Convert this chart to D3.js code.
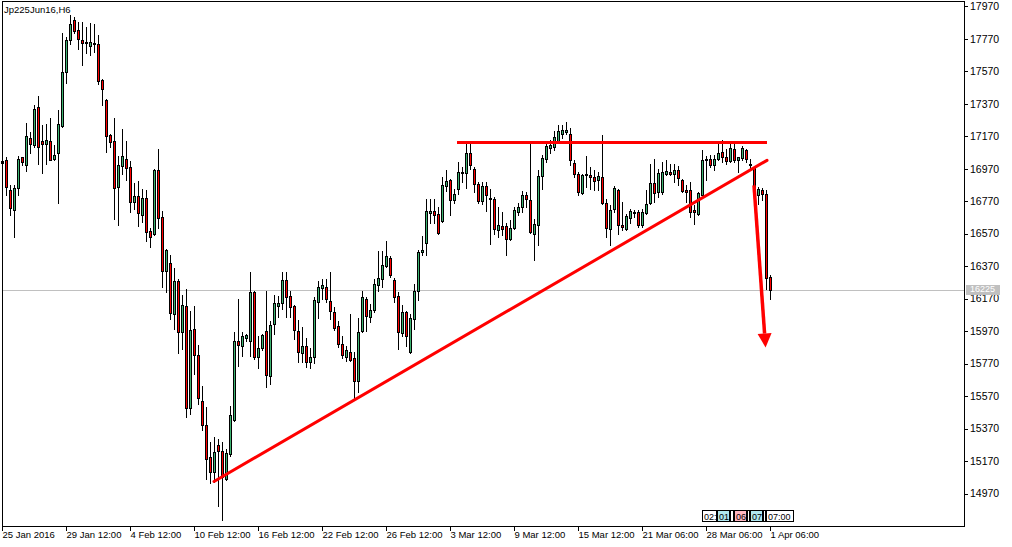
<!DOCTYPE html>
<html><head><meta charset="utf-8">
<script src="https://cdn.jsdelivr.net/npm/d3@7"></script>
<style>body{margin:0;background:#fff}svg{display:block}</style>
</head><body>
<svg id="chart" width="1012" height="547"></svg>
<script>
const title = "Jp225Jun16,H6";
const opens = [17005,17025,16837,16718,16851,17040,16995,17161,17116,17348,17139,17124,17143,17030,17067,17235,17565,17761,17884,17822,
17761,17752,17726,17746,17736,17518,17395,17175,17138,16857,16986,17032,16978,16765,16800,16687,16787,16584,16570,16960,
16670,16340,16391,16077,16276,15964,16122,15498,15981,15820,15537,15394,15194,15102,15266,15229,15059,15212,15424,15906,
15876,15925,15911,16208,15812,15863,15968,15691,16013,16126,16140,16286,16188,16122,15968,15835,15880,15781,15812,16151,
16235,16239,16153,16085,15999,15890,15808,15839,15802,15664,15972,16167,16054,16102,16254,16291,16369,16418,16286,16184,
15958,16085,15843,16044,16217,16457,16514,16699,16707,16689,16648,16863,16898,16775,16847,16943,16945,17069,16970,16878,
16771,16861,16791,16785,16594,16615,16615,16539,16605,16703,16734,16810,16779,16570,16621,16925,17032,17099,17101,17138,
17186,17196,17186,17007,16939,16822,16933,16929,16919,16898,16919,16761,16601,16724,16841,16621,16601,16668,16697,16703,
16621,16697,16759,16882,16824,16826,16939,16949,16939,16964,16902,16837,16837,16718,16693,16810,17021,17028,16995,17032,
17073,17042,17015,17089,17021,17036,17083,17001,16974,16810,16837,16812,16303];
const highs = [17030,17040,16868,16868,17046,17042,17251,17196,17360,17416,17241,17247,17284,17114,17329,17806,17781,17915,17904,17873,
17873,17843,17867,17859,17791,17524,17401,17186,17282,17048,17212,17138,17015,16884,16892,16843,16837,16605,16966,17089,
16707,16478,16436,16360,16289,16190,16227,16091,16124,15886,15632,15502,15287,15317,15307,15287,15243,15510,15966,16167,
15962,15952,16336,16218,15941,15952,16218,16034,16192,16188,16336,16331,16218,16130,16040,15993,15925,15863,16177,16280,
16291,16291,16336,16116,16034,15942,15880,16075,15839,16048,16219,16178,16137,16291,16465,16465,16527,16434,16295,16213,
16130,16096,16075,16260,16467,16553,16785,16785,16785,16734,16919,16960,16908,16847,17011,16980,17124,17124,16980,16888,
16888,16888,16847,16796,16734,16703,16635,16652,16734,16761,16830,16826,17124,16662,16960,17056,17124,17145,17200,17237,
17241,17257,17221,17021,16949,16939,17048,16980,16960,16949,17175,16785,16748,16861,16847,16765,16693,16724,16713,16713,
16724,16837,17001,17032,16970,17011,17025,17001,17001,16984,16908,16867,16888,16744,16826,17083,17046,17052,17052,17134,
17145,17093,17124,17124,17040,17110,17093,17032,16974,16857,16851,16837,16313];
const lows = [16990,16806,16683,16549,16806,16991,16954,17067,17104,16997,16944,17001,17021,17025,16759,17227,17498,17740,17802,17709,
17607,17679,17668,17689,17494,17364,17073,17104,16662,16621,16935,16898,16703,16720,16617,16642,16523,16488,16564,16607,
16241,16210,16042,15985,15837,15862,15441,15461,15708,15523,15359,15061,15036,15040,14896,14804,15054,15202,15418,15752,
15814,15911,15814,15798,15740,15855,15623,15644,15952,16054,16106,16054,16054,15921,15781,15781,15746,15740,15773,16050,
16167,16147,16044,15979,15870,15802,15788,15788,15552,15597,15962,15972,16028,16089,16219,16239,16362,16301,16147,15859,
15942,15880,15833,15983,16159,16436,16436,16635,16635,16570,16642,16832,16683,16759,16812,16888,16853,16970,16826,16759,
16754,16709,16504,16570,16549,16559,16436,16529,16597,16683,16703,16734,16575,16406,16498,16843,17011,17069,17083,17130,
17159,17186,16991,16919,16806,16816,16857,16847,16837,16837,16755,16549,16498,16703,16570,16590,16594,16635,16672,16611,
16611,16693,16755,16765,16796,16816,16929,16929,16888,16867,16826,16765,16672,16627,16683,16806,16900,16980,16960,17021,
17011,17001,17011,17011,16950,17021,17011,16970,16755,16755,16775,16231,16169];
const closes = [17020,16857,16728,16853,17032,17011,17173,17124,17340,17104,17122,17149,17025,17056,17247,17563,17761,17863,17818,17771,
17746,17746,17752,17740,17510,17461,17169,17134,16851,16991,17046,16974,16765,16800,16697,16787,16580,16551,16960,16666,
16340,16467,16083,16276,15964,16128,15498,15974,15820,15558,15389,15184,15102,15225,15229,15070,15217,15455,15906,15884,
15941,15945,16212,15812,15863,15945,15701,16009,16140,16140,16286,16182,16120,15976,15843,15880,15781,15812,16163,16239,
16254,16167,16091,15989,15890,15823,15853,15794,15664,15966,16178,16065,16102,16260,16295,16379,16430,16315,16182,15962,
16085,15942,16048,16219,16457,16467,16707,16709,16687,16576,16867,16894,16779,16812,16950,16950,17069,16991,16878,16771,
16861,16806,16785,16600,16621,16600,16539,16607,16718,16734,16810,16781,16580,16631,16923,17036,17110,17118,17165,17200,
17206,17206,17021,16939,16826,16933,16939,16919,16892,16923,16761,16605,16713,16853,16621,16611,16676,16709,16703,16621,
16703,16755,16882,16820,16943,16949,16956,16939,16964,16915,16830,16826,16703,16703,16820,17025,17032,16995,17032,17069,
17042,17015,17097,17021,17040,17097,17028,16995,16810,16843,16816,16297,16225];
const priceTicks = [17970,17770,17570,17370,17170,16970,16770,16570,16370,16170,15970,15770,15570,15370,15170,14970];
const dateLabels = ["25 Jan 2016","29 Jan 12:00","4 Feb 12:00","10 Feb 12:00","16 Feb 12:00","22 Feb 12:00","26 Feb 12:00","3 Mar 12:00","9 Mar 12:00","15 Mar 12:00","21 Mar 06:00","28 Mar 06:00","1 Apr 06:00"];
const dateLabelBars = [0,16,32,48,64,80,96,112,128,144,160,176,192];
const currentPrice = 16225;
const resistanceBars = [113.75, 191.25];
const resistancePrice = 17131;
const trendBars = [53, 191.25];
const trendPrices = [15044, 17021];
const arrowBars = [188, 190.9];
const arrowPrices = [16867, 15869];
const timerLabels = ["02:", "01", "", "06", "", "07", "", "07:00"];
const timerKinds = ["w", "c", "w", "p", "w", "c", "w", "w"];

const svg = d3.select("#chart");
const FONT = "'Liberation Sans', Arial, sans-serif";
const fL = 2, fR = 964, fT = 1, fB = 526;
const x = d3.scaleLinear().domain([0, 192]).range([2, 770]);
const y = d3.scaleLinear().domain([14970, 17970]).range([493.5, 6.2]);

// current price line
const cpY = Math.round(y(currentPrice)) + 0.5;
svg.append("line").attr("x1", fL).attr("x2", fR).attr("y1", cpY).attr("y2", cpY)
  .attr("stroke", "#c0c0c0").attr("stroke-width", 1).attr("shape-rendering", "crispEdges");

// candles
const bars = d3.range(opens.length).map(i => ({i, o: opens[i], h: highs[i], l: lows[i], c: closes[i]}));
const gC = svg.append("g").attr("shape-rendering", "crispEdges");
bars.forEach(b => {
  const px = Math.round(x(b.i));
  gC.append("line").attr("x1", px + 0.5).attr("x2", px + 0.5)
    .attr("y1", Math.round(y(b.h))).attr("y2", Math.round(y(b.l)) + 1)
    .attr("stroke", "#000");
  const t = Math.round(y(Math.max(b.o, b.c))), bt = Math.round(y(Math.min(b.o, b.c)));
  if (bt - t < 1) {
    gC.append("line").attr("x1", px - 1).attr("x2", px + 2).attr("y1", t + 0.5).attr("y2", t + 0.5).attr("stroke", "#000");
  } else {
    gC.append("rect").attr("x", px - 0.5).attr("y", t + 0.5).attr("width", 2).attr("height", bt - t)
      .attr("fill", b.c >= b.o ? "#3cb371" : "#ff0000").attr("stroke", "#000").attr("stroke-width", 1);
  }
});

// red drawn objects
const gR = svg.append("g");
gR.append("line").attr("x1", x(resistanceBars[0])).attr("x2", x(resistanceBars[1]))
  .attr("y1", y(resistancePrice)).attr("y2", y(resistancePrice))
  .attr("stroke", "#ff0000").attr("stroke-width", 3).attr("shape-rendering", "crispEdges");
gR.append("line").attr("x1", x(trendBars[0])).attr("x2", x(trendBars[1]))
  .attr("y1", y(trendPrices[0])).attr("y2", y(trendPrices[1]))
  .attr("stroke", "#ff0000").attr("stroke-width", 3).attr("stroke-linecap", "round");
(function(){
  const x0 = x(arrowBars[0]), y0 = y(arrowPrices[0]), x1 = x(arrowBars[1]), y1 = y(arrowPrices[1]);
  const dx = x1 - x0, dy = y1 - y0, len = Math.hypot(dx, dy), ux = dx/len, uy = dy/len;
  const hl = 14, hw = 7;
  const bx = x1 - ux*hl, by = y1 - uy*hl;
  gR.append("line").attr("x1", x0).attr("y1", y0).attr("x2", bx).attr("y2", by)
    .attr("stroke", "#ff0000").attr("stroke-width", 3.5);
  gR.append("path").attr("d", `M${x1},${y1}L${bx - uy*hw},${by + ux*hw}L${bx + uy*hw},${by - ux*hw}Z`)
    .attr("fill", "#ff0000");
})();

// frame
const gF = svg.append("g").attr("shape-rendering", "crispEdges").attr("stroke", "#000");
gF.append("line").attr("x1", fL + 0.5).attr("x2", fL + 0.5).attr("y1", fT).attr("y2", fB + 1);
gF.append("line").attr("x1", fL).attr("x2", fR + 1).attr("y1", fT + 0.5).attr("y2", fT + 0.5);
gF.append("line").attr("x1", fL).attr("x2", fR + 1).attr("y1", fB + 0.5).attr("y2", fB + 0.5);
gF.append("line").attr("x1", fR + 0.5).attr("x2", fR + 0.5).attr("y1", fT).attr("y2", fB + 1);

// right axis
const ay = svg.append("g").attr("transform", `translate(${fR},0)`)
  .call(d3.axisRight(y).tickValues(priceTicks).tickSize(4).tickPadding(2).tickFormat(d3.format("d")));
ay.select(".domain").remove();
ay.selectAll("line").attr("shape-rendering", "crispEdges");
ay.selectAll("text").attr("font-family", FONT).attr("font-size", 10.5).attr("fill", "#000");

// bottom axis
const ax = svg.append("g").attr("transform", `translate(0,${fB})`)
  .call(d3.axisBottom(x).tickValues(dateLabelBars).tickSize(5).tickFormat((d, i) => dateLabels[i]));
ax.select(".domain").remove();
ax.selectAll("line").attr("shape-rendering", "crispEdges");
ax.selectAll("text").attr("font-family", FONT).attr("font-size", 9.5).attr("fill", "#000")
  .attr("text-anchor", "start").attr("dx", 0).attr("dy", "0.45em").attr("y", 8);

// current price label
svg.append("rect").attr("x", fR + 2).attr("y", Math.round(y(currentPrice)) - 5).attr("width", 34).attr("height", 10).attr("fill", "#c0c0c0");
svg.append("text").attr("x", fR + 6).attr("y", y(currentPrice) - 0.5).attr("dy", "0.35em")
  .attr("font-family", FONT).attr("font-size", 9).attr("fill", "#fff").text(currentPrice);

// title
svg.append("text").attr("x", 4).attr("y", 13).attr("font-family", FONT).attr("font-size", 9.5).attr("fill", "#000").text(title);

// timer boxes
(function(){
  let cx = 702;
  const colors = {w: "#ffffff", c: "#b0e8f0", p: "#ffb6c1"};
  const widths = [14, 12, 3, 12, 2, 12, 2, 27];
  timerLabels.forEach((t, i) => {
    const w = widths[i];
    svg.append("rect").attr("x", cx + 0.5).attr("y", 510.5).attr("width", w).attr("height", 11)
      .attr("fill", colors[timerKinds[i]]).attr("stroke", "#000").attr("shape-rendering", "crispEdges");
    if (t) svg.append("text").attr("x", cx + 2).attr("y", 519.5).attr("font-family", FONT).attr("font-size", 9).text(t);
    cx += w + 1;
  });
})();
</script>
</body></html>
